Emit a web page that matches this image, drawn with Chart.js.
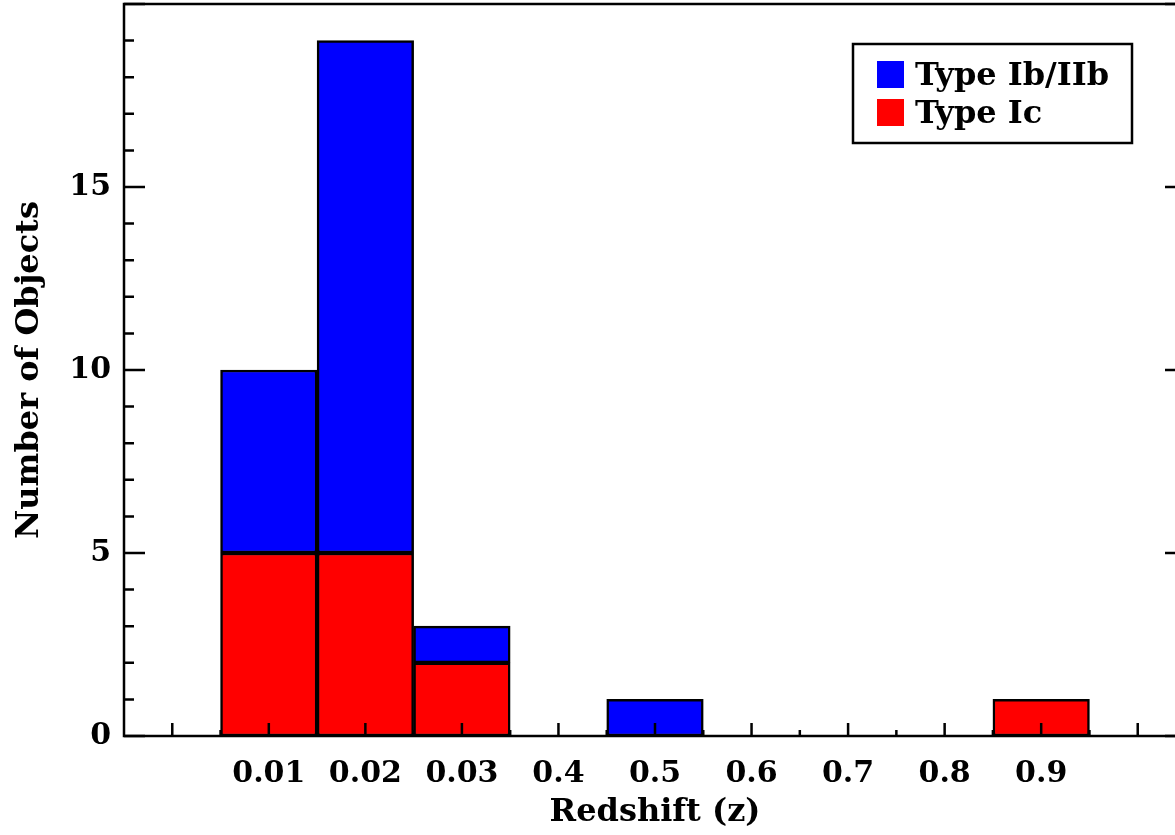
<!DOCTYPE html>
<html>
<head>
<meta charset="utf-8">
<script src="https://cdn.jsdelivr.net/npm/chart.js@4"></script>
<style>
  html, body { margin: 0; padding: 0; overflow: hidden; background: #fff; }
</style>
</head>
<body>
<canvas id="histo" width="1190" height="835"></canvas>
<script>
// redshift bins (first and last slots are empty on the plot)
const categories = ['', '0.01', '0.02', '0.03', '0.4', '0.5', '0.6', '0.7', '0.8', '0.9', ''];
const typeIc    = [null, 5, 5, 2, null, null, null, null, null, 1, null];
const typeIbIIb = [null, 5, 14, 1, null, 1, null, null, null, null, null];
const yLabelled = [0, 5, 10, 15];

const FONT = '"DejaVu Serif", serif';

const frameAndTicks = {
  id: 'frameAndTicks',
  afterDatasetsDraw(chart) {
    const {ctx, chartArea: a, scales: {x, y}} = chart;
    ctx.save();
    ctx.strokeStyle = '#000';
    ctx.lineWidth = 2.5;
    ctx.strokeRect(a.left, a.top, a.right - a.left, a.bottom - a.top);

    ctx.beginPath();
    y.ticks.forEach(t => {
      let py = y.getPixelForValue(t.value);
      let len = t.value % 5 === 0 ? 21 : 10;
      ctx.moveTo(a.left, py); ctx.lineTo(a.left + len, py);
      ctx.moveTo(a.right, py); ctx.lineTo(a.right - len, py);
    });
    for (let i = 0; i < categories.length; i++) {
      let px = x.getPixelForValue(i);
      ctx.moveTo(px, a.bottom); ctx.lineTo(px, a.bottom - 13);
      if (i < categories.length - 1) {
        let mx = x.getPixelForValue(i + 0.5);
        ctx.moveTo(mx, a.bottom); ctx.lineTo(mx, a.bottom - 6);
      }
    }
    ctx.stroke();
    ctx.restore();
  },
  afterDraw(chart) {
    // legend box, top right inside the plot
    const {ctx, chartArea: a} = chart;
    const right = a.right - 54, left = right - 279, top = a.top + 40;
    ctx.save();
    ctx.fillStyle = '#fff';
    ctx.fillRect(left, top, right - left, 99);
    ctx.strokeStyle = '#000';
    ctx.lineWidth = 2.5;
    ctx.strokeRect(left, top, right - left, 99);
    ctx.font = 'bold 32px ' + FONT;
    ctx.textBaseline = 'alphabetic';
    const sets = chart.data.datasets.slice().reverse();
    sets.forEach((ds, i) => {
      let rowY = top + 17 + i * 38;
      ctx.fillStyle = ds.backgroundColor;
      ctx.fillRect(left + 24, rowY, 27, 27);
      ctx.fillStyle = '#000';
      ctx.fillText(ds.label, left + 62, rowY + 24);
    });
    ctx.restore();
  }
};

new Chart('histo', {
  type: 'bar',
  data: {
    labels: categories,
    datasets: [{
      label: 'Type Ic',
      data: typeIc,
      backgroundColor: '#ff0000',
      borderColor: '#000',
      borderWidth: 2.5,
      borderSkipped: false
    }, {
      label: 'Type Ib/IIb',
      data: typeIbIIb,
      backgroundColor: '#0000ff',
      borderColor: '#000',
      borderWidth: 2.5,
      borderSkipped: false
    }]
  },
  options: {
    responsive: false,
    animation: false,
    layout: { padding: { top: 4, right: 4, left: 0, bottom: 0 } },
    datasets: { bar: { barPercentage: 1, categoryPercentage: 1 } },
    plugins: { legend: { display: false }, tooltip: { enabled: false } },
    scales: {
      x: {
        stacked: true,
        grid: { display: false, drawTicks: false },
        border: { display: false },
        ticks: { color: '#000', padding: 20, maxRotation: 0, autoSkip: false,
                 font: { family: FONT, size: 30, weight: 'bold' } },
        title: { display: true, text: 'Redshift (z)', color: '#000',
                 padding: { top: 0, bottom: 3 },
                 font: { family: FONT, size: 32, weight: 'bold' } },
        afterFit(scale) {
          scale.height = 99;
          scale.paddingLeft = 0;
          scale.paddingRight = 0;
        }
      },
      y: {
        stacked: true,
        min: 0,
        max: 20,
        grid: { display: false, drawTicks: false },
        border: { display: false },
        ticks: {
          stepSize: 1,
          autoSkip: false,
          color: '#000',
          padding: 13,
          font: { family: FONT, size: 30, weight: 'bold' },
          callback: v => yLabelled.includes(v) ? v : ''
        },
        title: { display: true, text: 'Number of Objects', color: '#000',
                 padding: { top: 10, bottom: 0 },
                 font: { family: FONT, size: 32, weight: 'bold' } },
        afterFit(scale) {
          scale.width = 124;
          scale.paddingTop = 0;
          scale.paddingBottom = 0;
        }
      }
    }
  },
  plugins: [frameAndTicks]
});
</script>
</body>
</html>
